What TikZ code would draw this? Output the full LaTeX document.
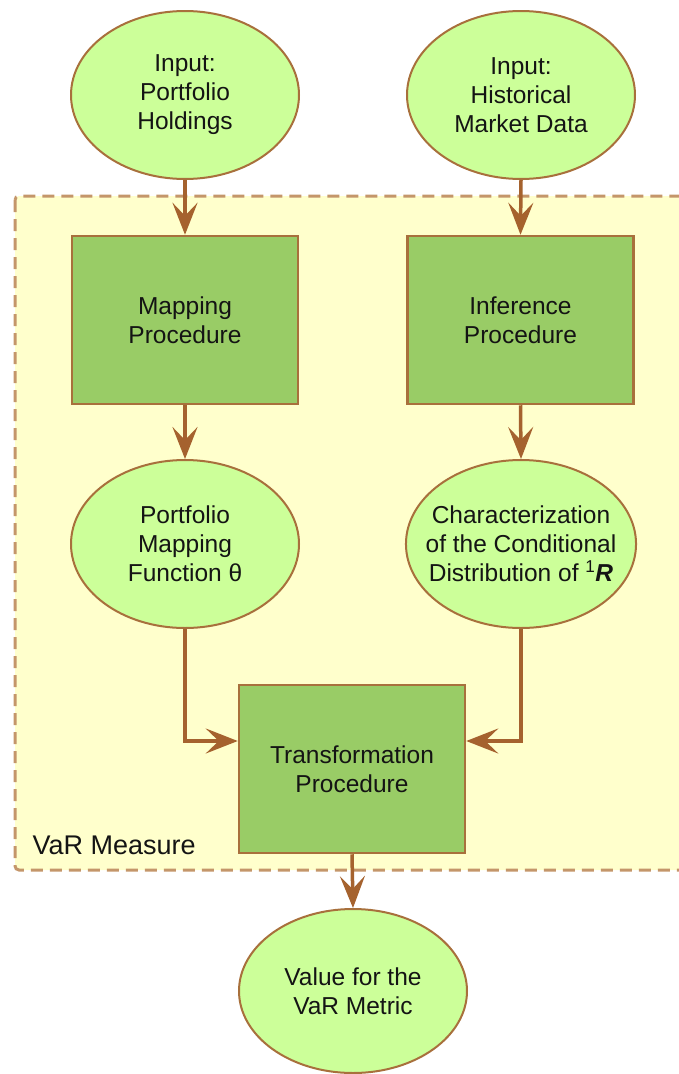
\documentclass[tikz,border=0pt]{standalone}
\usepackage{fontspec}
\setmainfont{Liberation Sans}
\usetikzlibrary{arrows.meta,shapes.geometric}

\definecolor{edgebrown}{HTML}{A5622E}
\definecolor{lineb}{HTML}{A8703C}
\definecolor{dashb}{HTML}{C4966A}
\definecolor{paleyellow}{HTML}{FFFFCC}
\definecolor{palegreen}{HTML}{CCFF99}
\definecolor{midgreen}{HTML}{99CC66}
\definecolor{inktext}{HTML}{141414}

\begin{document}
\begin{tikzpicture}[x=1pt,y=-1pt,
  every node/.style={font=\fontsize{24.5}{29}\selectfont, align=center, text=inktext},
  oval/.style={ellipse, draw=lineb, line width=2pt, fill=palegreen,
               minimum width=228pt, minimum height=168pt, inner sep=0pt},
  procbox/.style={rectangle, draw=lineb, line width=2.5pt, fill=midgreen,
                  minimum width=226pt, minimum height=168pt, inner sep=0pt},
  flow/.style={draw=edgebrown, line width=3.5pt,
               -{Stealth[length=32pt,width=25pt,inset=13pt]}},
  region/.style={draw=dashb, line width=3pt, dash pattern=on 12pt off 7pt,
                 fill=paleyellow, rounded corners=4pt}
]
\useasboundingbox (0,0) rectangle (679,1074);
\clip (0,0) rectangle (679,1074);

% VaR measure region
\path[region] (15,196) rectangle (705,870);
\node[anchor=base west, font=\fontsize{27}{30}\selectfont] (lbl) at (29,854) {VaR Measure};

% inputs
\node[oval] (inA) at (185,95) {Input:\\Portfolio\\Holdings};
\node[oval] (inB) at (521,95) {Input:\\Historical\\Market Data};

% procedures
\node[procbox] (map) at (185,320) {Mapping\\Procedure};
\node[procbox] (inf) at (520.5,320) {Inference\\Procedure};

% intermediate results (the long lines get a negative sideways padding so
% the ellipse keeps the same size as the others)
\node[oval] (theta) at (185,544) {Portfolio\\Mapping\\Function θ};
\node[oval, inner xsep=-14pt] (dist) at (521,544) {Characterization\\of the Conditional\\Distribution of \textsuperscript{1}\textbf{\textit{R}}};

% transformation and output
\node[procbox] (trans) at (352,769) {Transformation\\Procedure};
\node[oval, minimum height=164pt] (out) at (353,991) {Value for the\\VaR Metric};

% connectors
\draw[flow] (inA.south) -- (map.north);
\draw[flow] (inB.south) -- (inf.north);
\draw[flow] (map.south) -- (theta.north);
\draw[flow] (inf.south) -- (dist.north);
\draw[flow] (theta.south) |- ([yshift=28pt]trans.west);
\draw[flow] (dist.south) |- ([yshift=28pt]trans.east);
\draw[flow] (trans.south) -- (out.north);
\end{tikzpicture}
\end{document}
